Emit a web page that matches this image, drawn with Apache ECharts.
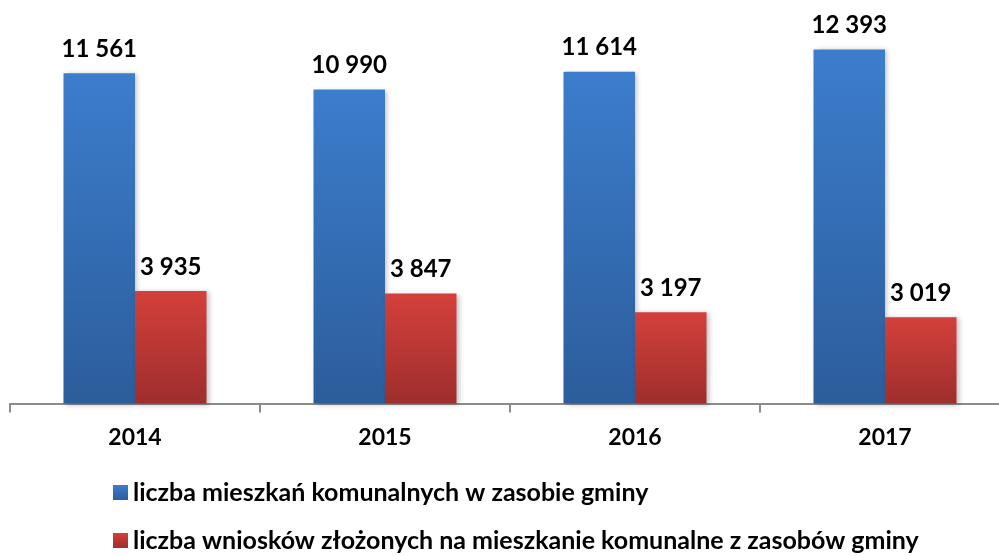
<!DOCTYPE html>
<html>
<head>
<meta charset="utf-8">
<script src="https://cdn.jsdelivr.net/npm/echarts@6/dist/echarts.min.js"></script>
<style>
	html, body { margin: 0; padding: 0; background: #fff; overflow: hidden; }
	/* a little wider than the window: the last category runs off the right edge */
	#chart { width: 1012px; height: 556px; }
</style>
</head>
<body>
<div id="chart"></div>
<script>
	var years = ['2014', '2015', '2016', '2017'];
	var mieszkania = [11561, 10990, 11614, 12393];
	var wnioski = [3935, 3847, 3197, 3019];
	var seriesNames = [
		'liczba mieszkań komunalnych w zasobie gminy',
		'liczba wniosków złożonych na mieszkanie komunalne z zasobów gminy'
	];

	var font = 'Lato, "Open Sans", sans-serif';

	function fmt(v) {
		return String(v).replace(/\B(?=(\d{3})+(?!\d))/g, ' ');
	}

	function grad(top, bottom) {
		return new echarts.graphic.LinearGradient(0, 0, 0, 1, [
			{ offset: 0, color: top },
			{ offset: 1, color: bottom }
		]);
	}

	function legendAt(name, top) {
		return {
			left: 113,
			top: top,
			padding: 0,
			itemWidth: 15,
			itemHeight: 15,
			itemGap: 0,
			icon: 'rect',
			textStyle: {
				color: '#000',
				fontFamily: font,
				fontWeight: 'bold',
				fontSize: 25
			},
			data: [name]
		};
	}

	var chart = echarts.init(document.getElementById('chart'));
	var barLabel = {
		show: true,
		position: 'top',
		distance: 12,
		color: '#000',
		fontFamily: font,
		fontWeight: 'bold',
		fontSize: 24,
		formatter: function(p) { return fmt(p.value); }
	};
	var option = {
		animation: false,
		legend: [
			legendAt(seriesNames[0], 480),
			legendAt(seriesNames[1], 528)
		],
		grid: {
			left: 10,
			right: 2,
			top: 3.5,
			bottom: 152.5,
			containLabel: false
		},
		xAxis: {
			type: 'category',
			data: years,
			axisLine: { show: true, lineStyle: { color: '#8c8c8c', width: 2 } },
			axisTick: { show: true, length: 9, lineStyle: { color: '#8c8c8c', width: 2 } },
			axisLabel: {
				color: '#000',
				fontFamily: font,
				fontWeight: 'bold',
				fontSize: 23,
				margin: 23
			}
		},
		yAxis: {
			type: 'value',
			min: 0,
			max: 14000,
			show: false,
			splitLine: { show: false }
		},
		series: [{
				name: seriesNames[0],
				type: 'bar',
				barGap: '0%',
				barCategoryGap: '42.8%',
				itemStyle: {
					color: grad('#3c7dcd', '#2c5d9b'),
					shadowColor: 'rgba(0,0,0,0.25)',
					shadowBlur: 5,
					shadowOffsetX: 2,
					shadowOffsetY: 1
				},
				label: barLabel,
				data: mieszkania
			},
			{
				name: seriesNames[1],
				type: 'bar',
				itemStyle: {
					color: grad('#d4403b', '#9e2e2c'),
					shadowColor: 'rgba(0,0,0,0.25)',
					shadowBlur: 5,
					shadowOffsetX: 2,
					shadowOffsetY: 1
				},
				label: barLabel,
				data: wnioski
			}
		]
	};
	chart.setOption(option);
</script>
</body>
</html>
